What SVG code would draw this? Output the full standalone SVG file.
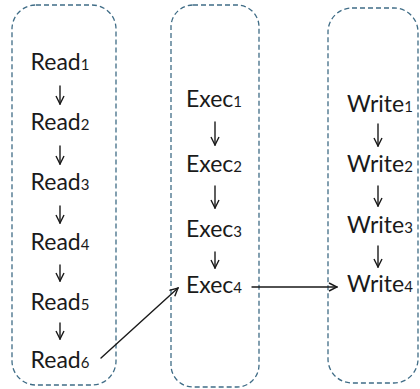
<svg xmlns="http://www.w3.org/2000/svg" width="420" height="389" viewBox="0 0 420 389">
<defs>
<style>
.box{fill:none;stroke:#3f6c86;stroke-width:1.3;stroke-dasharray:5 3}
.t{font-family:Lato,"Open Sans",sans-serif;font-size:23px;fill:#1a1a1a;text-anchor:middle}
.s{font-size:15px}
.a{fill:none;stroke:#1a1a1a;stroke-width:1.4;stroke-linecap:round;stroke-linejoin:round}
</style>
<marker id="h" viewBox="0 0 10 10" refX="9" refY="5" markerWidth="10" markerHeight="10" markerUnits="userSpaceOnUse" orient="auto">
<path d="M1,1 L9,5 L1,9" fill="none" stroke="#1a1a1a" stroke-width="1.4"/>
</marker>
</defs>
<rect width="420" height="389" fill="#fff"/>
<g id="read-group"><rect class="box" x="12" y="5" width="104" height="380" rx="24"/></g>
<g id="exec-group"><rect class="box" x="171" y="5" width="88" height="382" rx="22"/></g>
<g id="write-group"><rect class="box" x="328" y="8" width="90" height="375" rx="24"/></g>
<g id="read1"><text class="t" x="60" y="70">Read<tspan class="s">1</tspan></text></g>
<g id="read2"><text class="t" x="60" y="130">Read<tspan class="s">2</tspan></text></g>
<g id="read3"><text class="t" x="60" y="190">Read<tspan class="s">3</tspan></text></g>
<g id="read4"><text class="t" x="60" y="250">Read<tspan class="s">4</tspan></text></g>
<g id="read5"><text class="t" x="60" y="310">Read<tspan class="s">5</tspan></text></g>
<g id="read6"><text class="t" x="60" y="368">Read<tspan class="s">6</tspan></text></g>
<g id="exec1"><text class="t" x="214" y="107">Exec<tspan class="s">1</tspan></text></g>
<g id="exec2"><text class="t" x="214" y="172">Exec<tspan class="s">2</tspan></text></g>
<g id="exec3"><text class="t" x="214" y="237">Exec<tspan class="s">3</tspan></text></g>
<g id="exec4"><text class="t" x="214" y="293">Exec<tspan class="s">4</tspan></text></g>
<g id="write1"><text class="t" x="380" y="112">Write<tspan class="s">1</tspan></text></g>
<g id="write2"><text class="t" x="380" y="172">Write<tspan class="s">2</tspan></text></g>
<g id="write3"><text class="t" x="380" y="233">Write<tspan class="s">3</tspan></text></g>
<g id="write4"><text class="t" x="380" y="292">Write<tspan class="s">4</tspan></text></g>
<g id="connectors">
<path class="a" d="M60,86 V104" marker-end="url(#h)"/>
<path class="a" d="M60,146 V164" marker-end="url(#h)"/>
<path class="a" d="M60,206 V223" marker-end="url(#h)"/>
<path class="a" d="M60,265 V281" marker-end="url(#h)"/>
<path class="a" d="M60,323 V339" marker-end="url(#h)"/>
<path class="a" d="M215,122 V145" marker-end="url(#h)"/>
<path class="a" d="M215,186 V208" marker-end="url(#h)"/>
<path class="a" d="M215,252 V268" marker-end="url(#h)"/>
<path class="a" d="M378,124 V146" marker-end="url(#h)"/>
<path class="a" d="M378,186 V206" marker-end="url(#h)"/>
<path class="a" d="M378,246 V267" marker-end="url(#h)"/>
<path class="a" d="M101,358 L178,288" marker-end="url(#h)"/>
<path class="a" d="M252,287 L337,287" marker-end="url(#h)"/>
</g>
</svg>
